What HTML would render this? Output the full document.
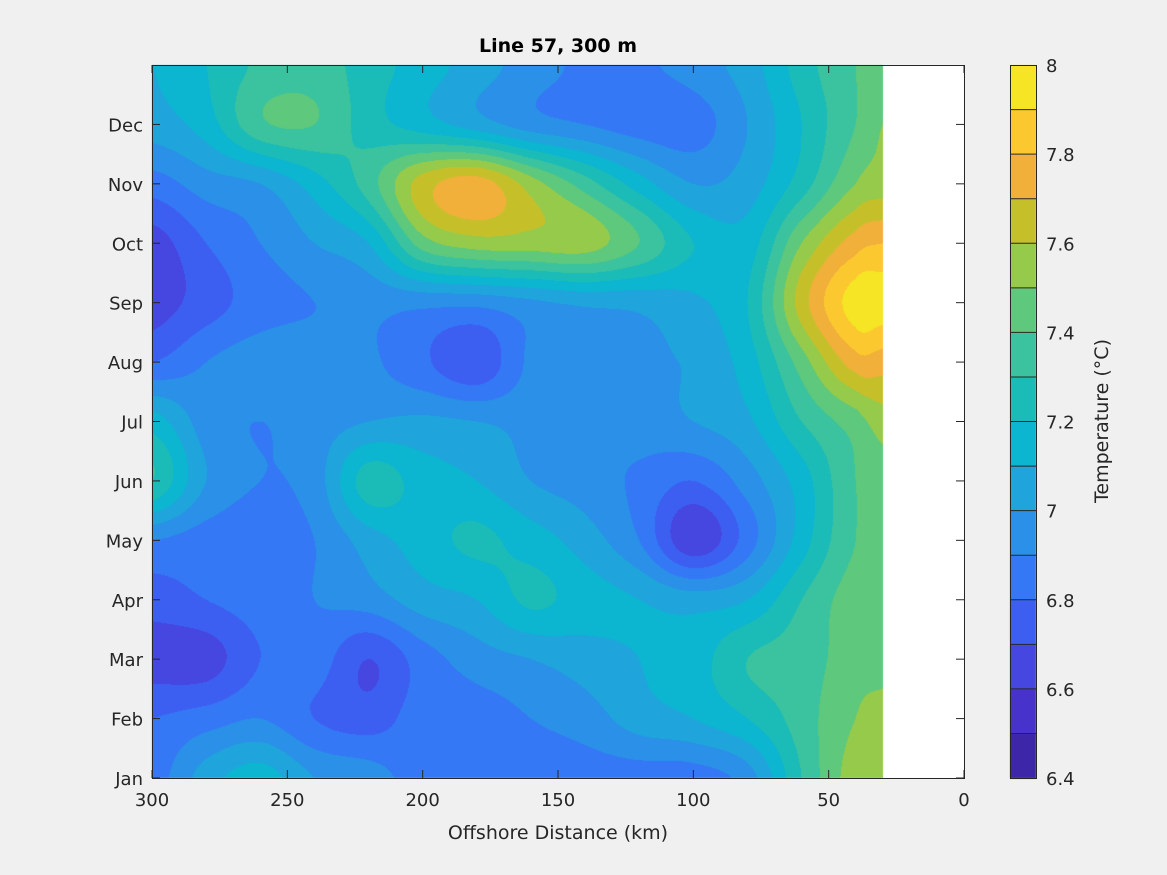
<!DOCTYPE html>
<html><head><meta charset="utf-8"><style>
body{margin:0;background:#f0f0f0;width:1167px;height:875px;overflow:hidden;font-family:"DejaVu Sans","Liberation Sans",sans-serif}
#wrap{position:relative;width:1167px;height:875px}
canvas{position:absolute;left:0;top:0}
svg{position:absolute;left:0;top:0}
</style></head><body>
<div id="wrap">
<canvas id="cv" width="1167" height="875"></canvas>
<svg id="sv" width="1167" height="875" font-family="DejaVu Sans, Liberation Sans, sans-serif"></svg>
</div>
<script>
const distances=[300,280,260,240,220,200,180,160,140,120,100,80,60,40,30];
const months=[1,2,3,4,5,6,7,8,9,10,11,12,13];
const monthLabels=["Jan","Feb","Mar","Apr","May","Jun","Jul","Aug","Sep","Oct","Nov","Dec"];
const xTicks=[300,250,200,150,100,50,0];
const cTicks=[6.4,6.6,6.8,7,7.2,7.4,7.6,7.8,8];
const temps=[
[6.85,7.05,7.15,7.0,6.95,6.85,6.85,6.85,6.85,6.85,6.85,6.95,7.3,7.55,7.55],
[6.8,6.85,6.9,6.8,6.75,6.85,6.85,6.9,6.95,7.05,7.1,7.2,7.35,7.5,7.55],
[6.65,6.65,6.8,6.85,6.7,6.85,6.95,7.0,7.05,7.1,7.15,7.3,7.35,7.45,7.45],
[6.75,6.8,6.85,6.9,6.95,7.05,7.1,7.22,7.15,7.1,7.05,7.1,7.3,7.45,7.45],
[6.9,6.85,6.85,6.9,7.05,7.15,7.22,7.15,7.05,6.9,6.62,6.85,7.15,7.4,7.45],
[7.3,7.0,6.9,6.95,7.25,7.15,7.1,7.0,6.95,6.88,6.8,6.95,7.15,7.4,7.45],
[7.15,6.95,6.9,6.95,7.0,7.02,7.0,6.97,6.95,6.95,7.0,7.08,7.3,7.45,7.55],
[6.8,6.9,6.95,6.95,6.92,6.82,6.72,6.92,6.93,6.97,7.02,7.15,7.45,7.75,7.75],
[6.65,6.75,6.85,6.9,6.93,6.93,6.93,6.98,7.02,7.03,7.08,7.2,7.65,7.95,7.95],
[6.65,6.8,6.9,7.0,7.1,7.45,7.55,7.55,7.55,7.4,7.2,7.15,7.5,7.75,7.8],
[6.85,6.95,7.0,7.15,7.35,7.65,7.75,7.55,7.35,7.15,7.0,7.05,7.25,7.5,7.55],
[7.05,7.15,7.38,7.4,7.25,7.15,7.05,6.95,6.9,6.85,6.85,7.0,7.2,7.4,7.5],
[7.1,7.2,7.32,7.35,7.25,7.15,7.05,6.95,6.88,6.88,6.95,7.05,7.25,7.4,7.45]];
const colors=["#3e26a8","#4733cc","#4646e0","#3c5ff2","#3478f5","#2a90e8","#1fa5dc","#0cb5d0","#1bbcb8","#3ac39e","#5ec87c","#96ca4a","#c5c02a","#f0b03a","#fcc830","#f5e524"];
const L=152,R=964,T=65,B=778;
const xs=d=>L+(300-d)/300*(R-L);
const ys=m=>B-(m-1)/12*(B-T);
function hexRgb(h){return[parseInt(h.substr(1,2),16),parseInt(h.substr(3,2),16),parseInt(h.substr(5,2),16)];}
const rgb=colors.map(hexRgb);
function interp1(arr,v){
  for(let i=0;i<arr.length-1;i++){const a=arr[i],b=arr[i+1];if((v-a)*(v-b)<=0)return i+(v-a)/(b-a);}return v<arr[0]?0:arr.length-1;}
function cr(p0,p1,p2,p3,t){return 0.5*((2*p1)+(-p0+p2)*t+(2*p0-5*p1+4*p2-p3)*t*t+(-p0+3*p1-3*p2+p3)*t*t*t);}
function g(r,c){r=Math.max(0,Math.min(temps.length-1,r));c=Math.max(0,Math.min(distances.length-1,c));return temps[r][c];}
function sample(fr,fc){
  const r=Math.min(Math.floor(fr),temps.length-2),c=Math.min(Math.floor(fc),distances.length-2);
  const tr=fr-r,tc=fc-c;const rows=[];
  for(let i=-1;i<=2;i++)rows.push(cr(g(r+i,c-1),g(r+i,c),g(r+i,c+1),g(r+i,c+2),tc));
  return cr(rows[0],rows[1],rows[2],rows[3],tr);}
const cv=document.getElementById('cv');const ctx=cv.getContext('2d');
ctx.fillStyle='#fff';ctx.fillRect(L,T,R-L,B-T);
const x0=Math.round(xs(distances[0])),x1=Math.round(xs(distances[distances.length-1]));
const img=ctx.createImageData(x1-x0,B-T);
for(let py=0;py<B-T;py++){const m=1+(B-(T+py+0.5))/(B-T)*12;const fr=(m-1);
  for(let px=0;px<x1-x0;px++){const d=300-(px+0.5)/(R-L)*300;const fc=interp1(distances,d);
    let v=sample(fr,fc);let k=Math.floor((v-6.4)/0.1);k=Math.max(0,Math.min(15,k));
    const o=(py*(x1-x0)+px)*4;img.data[o]=rgb[k][0];img.data[o+1]=rgb[k][1];img.data[o+2]=rgb[k][2];img.data[o+3]=255;}}
ctx.putImageData(img,x0,T);
const CL=1010,CR=1036;
for(let k=0;k<16;k++){const yt=B-(k+1)/16*(B-T),yb=B-k/16*(B-T);ctx.fillStyle=colors[k];ctx.fillRect(CL,yt,CR-CL,yb-yt+0.5);}
const NS='http://www.w3.org/2000/svg';const sv=document.getElementById('sv');
function el(t,a,txt){const e=document.createElementNS(NS,t);for(const k in a)e.setAttribute(k,a[k]);if(txt!==undefined)e.textContent=txt;sv.appendChild(e);return e;}
let e;
e=el('rect',{x:L+0.5,y:T+0.5,width:R-L,height:B-T,fill:'none',stroke:'#262626','stroke-width':1});


xTicks.forEach(t=>{const x=xs(t);
  el('line',{x1:x,y1:B,x2:x,y2:B-8,stroke:'#262626'});el('line',{x1:x,y1:T,x2:x,y2:T+8,stroke:'#262626'});
  e=el('text',{x:x,y:B+28,'text-anchor':'middle','font-size':18,fill:'#262626'},String(t));
  
  });
monthLabels.forEach((lab,i)=>{const y=ys(months[i]);
  el('line',{x1:L,y1:y,x2:L+8,y2:y,stroke:'#262626'});el('line',{x1:R,y1:y,x2:R-8,y2:y,stroke:'#262626'});
  e=el('text',{x:L-9,y:y+7,'text-anchor':'end','font-size':18,fill:'#262626'},lab);
  
  });
e=el('text',{x:(L+R)/2,y:839,'text-anchor':'middle','font-size':19,fill:'#262626'},'Offshore Distance (km)');


e=el('text',{x:(L+R)/2,y:52,'text-anchor':'middle','font-size':19,'font-weight':'bold',fill:'#000'},'Line 57, 300 m');


e=el('rect',{x:CL+0.5,y:T+0.5,width:CR-CL,height:B-T,fill:'none',stroke:'#262626'});


for(let k=1;k<16;k++){const y=B-k/16*(B-T);el('line',{x1:CL,y1:y,x2:CR,y2:y,stroke:'#262626','stroke-width':1});}
cTicks.forEach(t=>{const y=B-(t-6.4)/1.6*(B-T);
  e=el('text',{x:CR+10,y:y+7,'font-size':18,fill:'#262626'},String(t));
  
  });
e=el('text',{x:0,y:0,'text-anchor':'middle','font-size':19,fill:'#262626',transform:'translate(1108,421) rotate(-90)'},'Temperature (°C)');


</script>
</body></html>
